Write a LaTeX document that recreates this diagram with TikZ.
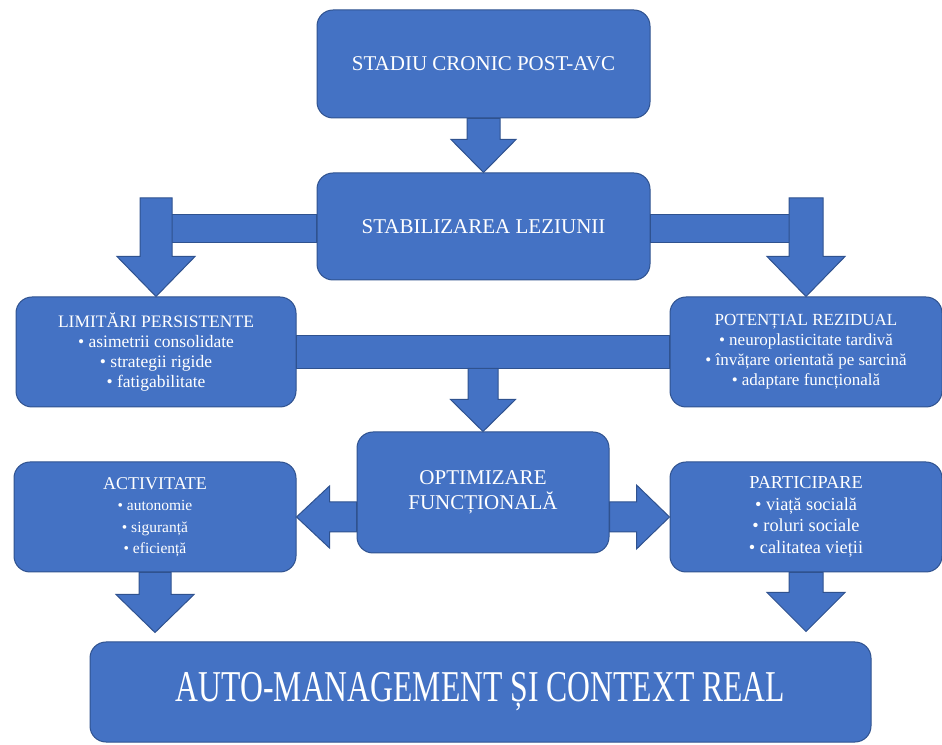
\documentclass[tikz,border=0pt]{standalone}
\usepackage{fontspec}
\setmainfont{Liberation Serif}
\usepackage{graphicx}
\usepackage{xcolor}
\usepackage{tikz}
\usetikzlibrary{
	calc,
	positioning
	}
\definecolor{bleu-fond}{HTML}{4472C4}
\definecolor{bleu-bord}{HTML}{2F528F}
\tikzstyle{boite-std}=[draw=bleu-bord,fill=bleu-fond,rounded corners=16pt,line width=1pt,text=white,align=center,inner sep=0pt]
\tikzstyle{fleche-std}=[draw=bleu-bord,fill=bleu-fond,line width=1pt,line join=miter]
\newcommand{\puce}[1]{{\fontsize{15.5}{21.5}\selectfont #1}}
% fleche vers le bas : depart, arrivee, demi-tige, demi-tete, longueur tete
\newcommand{\flechebas}[5]{%
	\filldraw[fleche-std] let \p1=(#1), \p2=(#2) in
		(\x1-#3,\y1) -- (\x1+#3,\y1) -- (\x1+#3,\y2+#5) -- (\x1+#4,\y2+#5)
		-- (\x1,\y2) -- (\x1-#4,\y2+#5) -- (\x1-#3,\y2+#5) -- cycle;}
% fleches laterales
\newcommand{\flechegauche}[5]{%
	\filldraw[fleche-std] let \p1=(#1), \p2=(#2) in
		(\x1,\y2-#3) -- (\x1,\y2+#3) -- (\x2+#5,\y2+#3) -- (\x2+#5,\y2+#4)
		-- (\x2,\y2) -- (\x2+#5,\y2-#4) -- (\x2+#5,\y2-#3) -- cycle;}
\newcommand{\flechedroite}[5]{%
	\filldraw[fleche-std] let \p1=(#1), \p2=(#2) in
		(\x1,\y2-#3) -- (\x1,\y2+#3) -- (\x2-#5,\y2+#3) -- (\x2-#5,\y2+#4)
		-- (\x2,\y2) -- (\x2-#5,\y2-#4) -- (\x2-#5,\y2-#3) -- cycle;}

\begin{document}
\begin{tikzpicture}[x=1pt,y=1pt]
\useasboundingbox (0,0) rectangle (942,744);

\node[boite-std,minimum width=333pt,minimum height=108pt,font=\fontsize{21}{25}\selectfont] (stadiu) at (483.5,680) {STADIU CRONIC POST-AVC};
\node[boite-std,minimum width=333pt,minimum height=107pt,font=\fontsize{21}{25}\selectfont] (stabil) at (483.5,517.5) {STABILIZAREA LEZIUNII};
\node[boite-std,minimum width=280pt,minimum height=110pt,font=\fontsize{17.5}{20}\selectfont] (limite) at (156,392) {LIMITĂRI PERSISTENTE\\• asimetrii consolidate\\• strategii rigide\\• fatigabilitate};
\node[boite-std,minimum width=272pt,minimum height=110pt,font=\fontsize{17}{20}\selectfont] (potential) at (806,392) {POTENȚIAL REZIDUAL\\• neuroplasticitate tardivă\\• învățare orientată pe sarcină\\• adaptare funcțională};
\node[boite-std,minimum width=252pt,minimum height=121pt,font=\fontsize{21}{25}\selectfont] (optim) at (483,251.5) {OPTIMIZARE\\FUNCȚIONALĂ};
\node[boite-std,minimum width=282pt,minimum height=110pt,font=\fontsize{18}{21.5}\selectfont] (activ) at (155,227) {ACTIVITATE\\\puce{• autonomie}\\\puce{• siguranță}\\\puce{• eficiență}};
\node[boite-std,minimum width=272pt,minimum height=110pt,font=\fontsize{18.3}{21.5}\selectfont] (partic) at (806,227) {PARTICIPARE\\• viață socială\\• roluri sociale\\• calitatea vieții};
\node[boite-std,minimum width=781pt,minimum height=100pt,font=\fontsize{44}{50}\selectfont] (auto) at (480.5,52) {\scalebox{0.72}[1]{AUTO-MANAGEMENT ȘI CONTEXT REAL}};

\flechebas{stadiu.south}{stabil.north}{16.5pt}{32.5pt}{33pt}

% branches sous la lesion
\coordinate (coin-g) at ([yshift=-5pt]stabil.west -| limite.north);
\coordinate (coin-d) at ([yshift=-5pt]stabil.east -| potential.north);
\filldraw[fleche-std] ([yshift=-16.5pt]stabil.west) rectangle ([yshift=16.5pt]coin-g);
\filldraw[fleche-std] ([yshift=-16.5pt]stabil.east) rectangle ([yshift=16.5pt]coin-d);
\flechebas{[yshift=33.5pt]coin-g}{limite.north}{16pt}{39pt}{40pt}
\flechebas{[yshift=33.5pt]coin-d}{potential.north}{17pt}{39pt}{40pt}

% barre du milieu
\filldraw[fleche-std] ([yshift=-16.5pt]limite.east) rectangle ([yshift=16.5pt]potential.west);
\coordinate (milieu) at ($(limite.east)!0.5!(potential.west)$);
\flechebas{[yshift=-16.5pt]milieu}{optim.north}{15pt}{32.5pt}{32pt}

\flechegauche{optim.west}{activ.east}{15pt}{31pt}{33pt}
\flechedroite{optim.east}{partic.west}{15pt}{32pt}{33pt}

\flechebas{activ.south}{[yshift=9pt]auto.north}{16pt}{39pt}{38pt}
\flechebas{partic.south}{[yshift=10pt]auto.north}{17pt}{39pt}{39pt}
\end{tikzpicture}
\end{document}
